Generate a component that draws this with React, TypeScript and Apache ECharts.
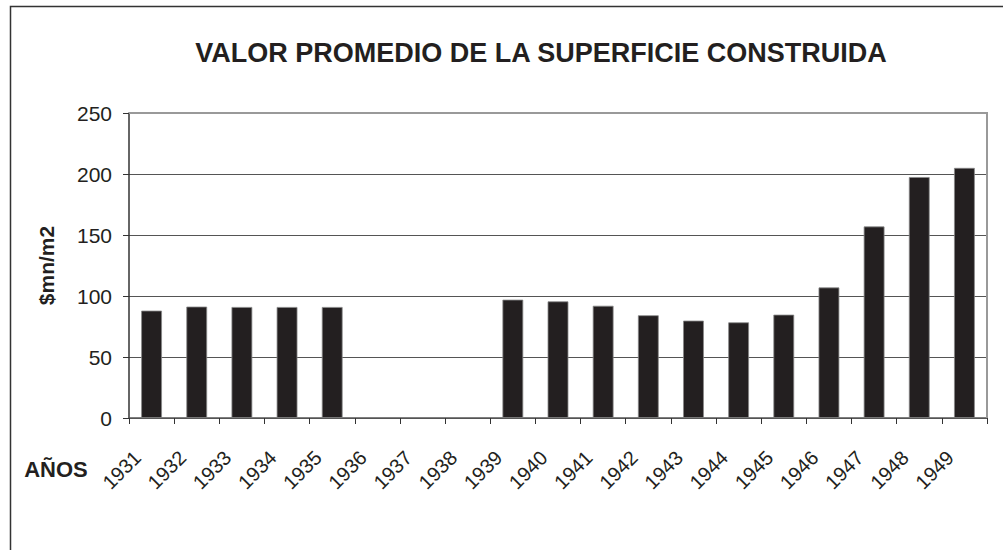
import React, { useEffect, useRef } from "react";
import * as echarts from "echarts";

const years = ["1931","1932","1933","1934","1935","1936","1937","1938","1939","1940","1941","1942","1943","1944","1945","1946","1947","1948","1949"];
const values = [88, 91.3, 91, 91, 91, null, null, null, 97, 95.6, 92, 84.2, 79.8, 78.4, 84.7, 107, 157, 197.5, 205];
const yTicks = { min: 0, max: 250, interval: 50 };

const FONT = "'Liberation Sans', Arial, Helvetica, sans-serif";

export default function App() {
  const ref = useRef<HTMLDivElement>(null);
  useEffect(() => {
    if (!ref.current) return;
    const chart = echarts.init(ref.current, null, { renderer: "svg" });
    chart.setOption({
      animation: false,
      backgroundColor: "#ffffff",
      textStyle: { fontFamily: FONT },
      title: {
        text: "VALOR PROMEDIO DE LA SUPERFICIE CONSTRUIDA",
        left: 536,
        top: 34,
        textAlign: "center",
        textStyle: { fontFamily: FONT, fontSize: 27, fontWeight: "bold", color: "#231f20" },
      },
      grid: { left: 129, right: 16, top: 113, bottom: 132, containLabel: false, outerBoundsMode: "none" },
      xAxis: {
        type: "category",
        data: years,
        axisLine: { show: true, lineStyle: { color: "#555", width: 1.5 } },
        axisTick: { show: true, length: 6, lineStyle: { color: "#333" } },
        axisLabel: {
          rotate: 45,
          fontSize: 20,
          color: "#231f20",
          fontFamily: FONT,
          margin: 22,
          padding: [0, 20, 0, 0],
          interval: 0,
        },
        splitLine: { show: false },
      },
      yAxis: {
        type: "value",
        min: yTicks.min,
        max: yTicks.max,
        interval: yTicks.interval,
        name: "$mn/m2",
        nameLocation: "middle",
        nameGap: 72,
        nameRotate: 90,
        nameTextStyle: { fontFamily: FONT, fontSize: 21, fontWeight: "bold", color: "#231f20" },
        axisLine: { show: true, lineStyle: { color: "#333", width: 1.5 } },
        axisTick: { show: true, length: 6, lineStyle: { color: "#333" } },
        axisLabel: { fontSize: 21, color: "#231f20", fontFamily: FONT, margin: 17 },
        splitLine: { show: true, lineStyle: { color: "#555", width: 1.2 } },
      },
      graphic: [
        {
          type: "rect",
          shape: { x: 10.5, y: 6.5, width: 1100, height: 700 },
          style: { fill: "none", stroke: "#333", lineWidth: 1.5 },
          silent: true,
        },
        {
          type: "polyline",
          shape: { points: [[129, 113], [987, 113], [987, 418]] },
          style: { fill: "none", stroke: "#999", lineWidth: 2 },
          silent: true,
          z: 10,
        },
        {
          type: "text",
          x: 56,
          y: 469,
          style: {
            text: "AÑOS",
            fontFamily: FONT,
            fontSize: 22,
            fontWeight: "bold",
            fill: "#231f20",
            textAlign: "center",
            textVerticalAlign: "middle",
          },
        },
      ],
      series: [
        {
          type: "bar",
          data: values,
          barWidth: "46%",
          itemStyle: { color: "#231f20", borderColor: "#888", borderWidth: 0.8 },
        },
      ],
    });
    return () => chart.dispose();
  }, []);
  return <div ref={ref} style={{ position: "fixed", left: 0, top: 0, width: 1003, height: 550 }} />;
}
